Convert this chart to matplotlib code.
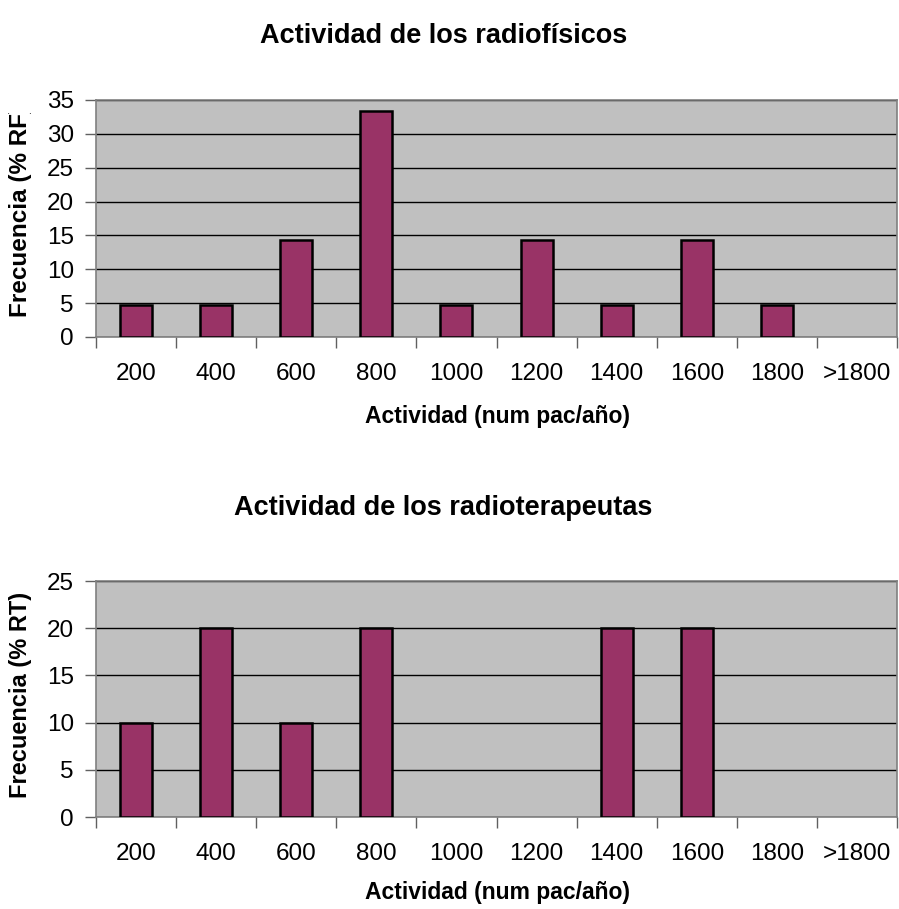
import matplotlib
matplotlib.use("Agg")
import matplotlib.pyplot as plt
from matplotlib.transforms import Bbox
import numpy as np

plt.rcParams['font.family'] = ['Liberation Sans', 'DejaVu Sans']

categories = ["200", "400", "600", "800", "1000", "1200", "1400", "1600", "1800", ">1800"]
rf_values = [4.76, 4.76, 14.29, 33.33, 4.76, 14.29, 4.76, 14.29, 4.76, 0]
rt_values = [10, 20, 10, 20, 0, 0, 20, 20, 0, 0]

W, H = 899, 909
fig = plt.figure(figsize=(W / 100, H / 100), dpi=100)

def px(y):
    # pixel row from top -> figure fraction
    return 1 - y / H

panels = [
    ("Actividad de los radiofísicos", "Frecuencia (% RF)", rf_values, 35,
     [0.1068, 0.6293, 0.891, 0.2607], 36, 416),
    ("Actividad de los radioterapeutas", "Frecuencia (% RT)", rt_values, 25,
     [0.1068, 0.1012, 0.891, 0.2596], 508, 893),
]

x = np.arange(len(categories))
for title, ylab, vals, ymax, rect, ty, xly in panels:
    ax = fig.add_axes(rect)
    ax.set_facecolor("#C0C0C0")
    lw = [1.8 if v > 0 else 0 for v in vals]
    ax.bar(x, vals, width=0.4, color="#993366", edgecolor="black", linewidth=lw, zorder=3)
    ax.set_xlim(-0.5, len(categories) - 0.5)
    ax.set_ylim(0, ymax)
    ax.set_yticks(np.arange(0, ymax + 1, 5))
    ax.yaxis.grid(True, color="black", linewidth=1.0, zorder=1)
    ax.set_axisbelow(True)

    # ticks on category boundaries, labels at centres
    ax.set_xticks(np.arange(-0.5, len(categories), 1.0))
    ax.set_xticklabels([])
    ax.set_xticks(x, minor=True)
    ax.set_xticklabels(categories, minor=True)
    ax.tick_params(axis="x", which="major", length=8, width=1, color="#606060", direction="out")
    ax.tick_params(axis="x", which="minor", length=0, pad=19, labelsize=17.5)
    ax.tick_params(axis="y", length=8, width=1, color="#606060", pad=8, labelsize=17.5)

    for s in ax.spines.values():
        s.set_color("#808080")
        s.set_linewidth(1.2)

    fig.text(0.493, px(ty), title, fontsize=19.5, fontweight="bold", ha="center", va="center")
    fig.text(497 / W, px(xly), "Actividad (num pac/año)", fontsize=16.5, fontweight="bold",
             ha="center", va="center")

# y labels; the first one is cut off at the top in the original
t1 = fig.text(21 / W, px(317), "Frecuencia (% RF)", fontsize=17.5, fontweight="bold",
              rotation=90, ha="center", va="bottom")
t1.set_clip_on(True)
t1.set_clip_box(Bbox([[0, 0], [W, H - 113]]))
fig.text(21 / W, px(695), "Frecuencia (% RT)", fontsize=17, fontweight="bold",
         rotation=90, ha="center", va="center")

fig.savefig("out.png", dpi=100)
